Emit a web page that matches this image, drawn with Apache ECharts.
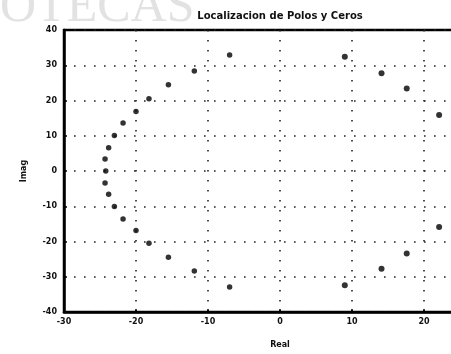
<!DOCTYPE html>
<html>
<head>
<meta charset="utf-8">
<script src="https://cdn.jsdelivr.net/npm/echarts@6/dist/echarts.min.js"></script>
<style>
  html, body { margin: 0; padding: 0; background: #fff; overflow: hidden; }
  #chart { width: 560px; height: 354px; }
</style>
</head>
<body>
<div id="chart"></div>
<script>
// Pole locations (real, imaginary) – left group, conjugate pairs plus the real pole
const leftReal = [-7.0, -11.9, -15.5, -18.2, -20.0, -21.8, -23.0, -23.8, -24.3, -24.2,
                  -24.3, -23.8, -23.0, -21.8, -20.0, -18.2, -15.5, -11.9, -7.0];
const leftImag = [32.9, 28.4, 24.5, 20.5, 16.9, 13.6, 10.1, 6.6, 3.4, 0,
                  -3.4, -6.6, -10.1, -13.6, -16.9, -20.5, -24.5, -28.4, -32.9];
// Right group, conjugate pairs
const rightReal = [9.0, 14.1, 17.6, 22.1, 22.1, 17.6, 14.1, 9.0];
const rightImag = [32.4, 27.7, 23.4, 15.9, -15.9, -23.4, -27.7, -32.4];

const xTicks = [-30, -20, -10, 0, 10, 20, 30];
const yTicks = [-40, -30, -20, -10, 0, 10, 20, 30, 40];

const pts = (re, im) => re.map((r, i) => [r, im[i]]);

const labelFont = { color: '#111', fontSize: 8, fontWeight: 'bold', fontFamily: 'DejaVu Sans' };
const dotted = { color: '#222', width: 1.6, type: [1.6, 8.4] };

const chart = echarts.init(document.getElementById('chart'), null, { renderer: 'canvas' });
chart.setOption({
  animation: false,
  backgroundColor: '#fff',
  title: {
    text: 'Localizacion de Polos y Ceros',
    left: 'center',
    top: 6,
    textStyle: { fontSize: 10, fontWeight: 'bold', color: '#111', fontFamily: 'DejaVu Sans' }
  },
  graphic: [{
    type: 'text',
    left: 0,
    top: -17,
    silent: true,
    z: -1,
    style: { text: 'OTECAS', font: '50px "Liberation Serif"', fill: '#e2e2e2' }
  }],
  grid: {
    left: 64, right: 64, top: 30, bottom: 41,
    show: true, borderColor: '#000', borderWidth: 2.5, backgroundColor: 'transparent'
  },
  xAxis: {
    type: 'value', min: xTicks[0], max: xTicks[xTicks.length - 1], interval: 10,
    name: 'Real', nameLocation: 'middle', nameGap: 29,
    nameTextStyle: labelFont,
    axisLine: { show: true, onZero: false, lineStyle: { color: '#000', width: 2.5 } },
    axisTick: { show: true, inside: true, length: 3, lineStyle: { color: '#000', width: 1.5 } },
    axisLabel: Object.assign({ margin: 6 }, labelFont),
    splitLine: { show: true, lineStyle: dotted }
  },
  yAxis: {
    type: 'value', min: yTicks[0], max: yTicks[yTicks.length - 1], interval: 10,
    name: 'Imag', nameLocation: 'middle', nameGap: 36, nameRotate: 90,
    nameTextStyle: labelFont,
    axisLine: { show: true, onZero: false, lineStyle: { color: '#000', width: 2.5 } },
    axisTick: { show: true, inside: true, length: 3, lineStyle: { color: '#000', width: 1.5 } },
    axisLabel: Object.assign({ margin: 7 }, labelFont),
    splitLine: { show: true, lineStyle: dotted }
  },
  series: [
    {
      type: 'scatter', data: pts(leftReal, leftImag),
      symbol: 'circle', symbolSize: 5.5,
      itemStyle: { color: '#000' }
    },
    {
      type: 'scatter', data: pts(rightReal, rightImag),
      symbol: 'circle', symbolSize: 6,
      itemStyle: { color: '#000' }
    }
  ]
});
</script>
</body>
</html>
